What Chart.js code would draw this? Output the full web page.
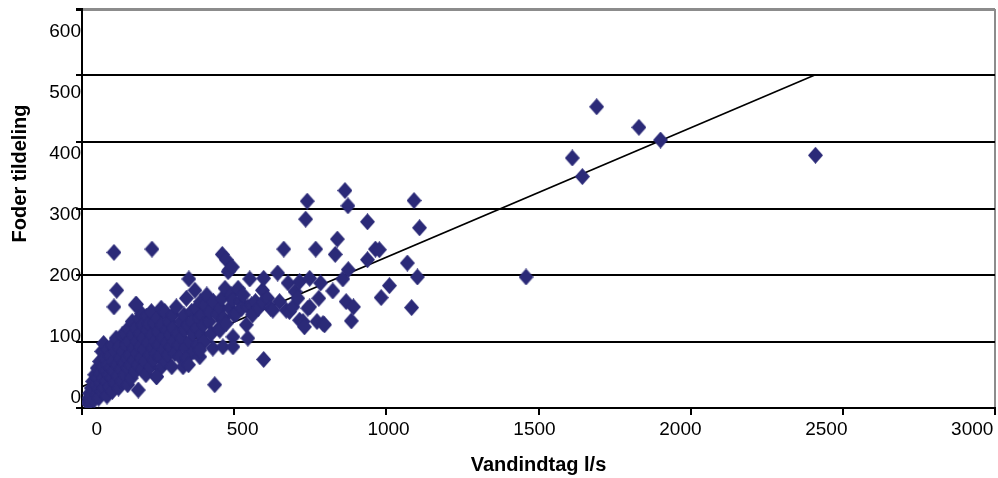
<!DOCTYPE html>
<html>
<head>
<meta charset="utf-8">
<script src="https://cdn.jsdelivr.net/npm/chart.js@4/dist/chart.umd.min.js"></script>
<style>
  body { margin: 0; background: #fff; }
  #wrap { width: 998px; height: 478px; position: relative; }
</style>
</head>
<body>
<div id="wrap"><canvas id="myChartFoder"></canvas></div>
<script>
// Vandindtag (l/s) for hver maaling
const waterFlow = [
  18, 22, 25, 28, 30, 32, 35, 38, 40, 42,
  45, 48, 50, 52, 55, 55, 58, 60, 62, 65,
  65, 68, 70, 72, 71, 75, 78, 80, 82, 85,
  85, 88, 90, 92, 95, 98, 100, 100, 102, 105,
  108, 110, 112, 115, 118, 120, 122, 125, 128, 130,
  132, 135, 138, 140, 142, 145, 148, 150, 150, 152,
  155, 158, 160, 162, 165, 168, 170, 172, 175, 175,
  178, 180, 182, 185, 185, 188, 190, 192, 195, 196,
  198, 200, 202, 205, 208, 210, 212, 215, 218, 219,
  222, 225, 228, 230, 232, 235, 238, 240, 242, 245,
  248, 250, 252, 255, 258, 260, 262, 265, 268, 272,
  275, 278, 280, 283, 286, 290, 292, 295, 298, 300,
  302, 305, 310, 315, 318, 321, 325, 328, 332, 335,
  338, 340, 343, 345, 348, 350, 351, 355, 360, 362,
  365, 368, 371, 375, 378, 380, 385, 387, 390, 392,
  395, 400, 402, 405, 410, 418, 420, 425, 430, 432,
  436, 445, 450, 453, 455, 460, 461, 463, 465, 470,
  474, 474, 480, 485, 485, 490, 494, 496, 496, 496,
  500, 507, 513, 520, 525, 530, 540, 545, 545, 551,
  557, 560, 570, 580, 593, 595, 597, 597, 610, 620,
  627, 643, 649, 663, 671, 677, 682, 693, 700, 709,
  715, 715, 726, 731, 735, 740, 742, 748, 748, 768,
  772, 778, 784, 792, 797, 824, 832, 839, 857, 864,
  868, 874, 875, 885, 892, 938, 938, 964, 977, 983,
  1010, 1069, 1083, 1091, 1102, 1109, 1459, 1611, 1644, 1691,
  1830, 1901, 2410, 105, 230, 114, 105, 179, 245, 387
];

// Foder tildeling for samme maalinger
const feedAlloc = [
  8, 15, 22, 10, 30, 18, 40, 25, 12, 50,
  35, 20, 60, 45, 28, 15, 70, 52, 38, 25,
  85, 62, 45, 30, 97, 75, 55, 40, 18, 88,
  65, 50, 32, 78, 60, 45, 25, 95, 70, 55,
  38, 85, 105, 65, 48, 30, 92, 75, 58, 40,
  110, 85, 68, 50, 112, 95, 75, 60, 35, 120,
  100, 80, 65, 45, 130, 110, 90, 72, 155, 55,
  120, 100, 82, 27, 65, 135, 112, 92, 75, 142,
  58, 125, 105, 88, 70, 50, 138, 118, 98, 127,
  80, 62, 145, 110, 90, 72, 128, 100, 82, 47,
  135, 115, 95, 78, 60, 150, 125, 105, 88, 145,
  70, 118, 98, 80, 130, 110, 92, 62, 140, 120,
  100, 82, 152, 112, 95, 77, 130, 105, 62, 140,
  118, 90, 165, 75, 125, 65, 194, 100, 145, 130,
  112, 85, 177, 150, 120, 95, 135, 77, 160, 110,
  140, 125, 100, 155, 170, 130, 145, 112, 90, 160,
  35, 140, 120, 117, 150, 165, 231, 92, 135, 180,
  223, 127, 205, 208, 150, 170, 212, 162, 107, 92,
  140, 142, 180, 160, 150, 170, 125, 152, 105, 194,
  155, 140, 160, 150, 177, 160, 195, 73, 165, 150,
  147, 203, 160, 239, 147, 188, 145, 152, 175, 165,
  190, 132, 130, 122, 284, 311, 150, 195, 152, 239,
  130, 165, 188, 127, 125, 176, 231, 254, 194, 327,
  160, 304, 208, 131, 152, 280, 223, 239, 238, 166,
  184, 218, 151, 312, 197, 271, 197, 376, 348, 453,
  422, 403, 380, 234, 239, 177, 152, 156, 47, 87
];

// tendenslinje (start og slut)
const trendX = [0, 2410];
const trendY = [32, 501];

const xTicks = [0, 500, 1000, 1500, 2000, 2500, 3000];
const yTicks = [0, 100, 200, 300, 400, 500, 600];

// diamant markoer, lidt hoejere end bred
const marker = document.createElement('canvas');
marker.width = 15;
marker.height = 17;
const mctx = marker.getContext('2d');
mctx.fillStyle = '#2B2A78';
mctx.beginPath();
mctx.moveTo(7.5, 0);
mctx.lineTo(15, 8.5);
mctx.lineTo(7.5, 17);
mctx.lineTo(0, 8.5);
mctx.closePath();
mctx.fill();

const points = waterFlow.map((v, i) => ({ x: v, y: feedAlloc[i] }));
const trend = trendX.map((v, i) => ({ x: v, y: trendY[i] }));

const tickFont = { family: "'Liberation Sans', Arial, sans-serif", size: 19 };
const titleFont = { family: "'Liberation Sans', Arial, sans-serif", size: 20, weight: 'bold' };

var ctxFoder = document.getElementById('myChartFoder').getContext('2d');
var myChartFoder = new Chart(ctxFoder, {
    type: 'scatter',
    data: {
        datasets: [
            {
                label: 'Foder',
                data: points,
                pointStyle: marker,
                pointRadius: 7,
                backgroundColor: '#2B2A78',
                borderColor: '#2B2A78',
                order: 1
            },
            {
                type: 'line',
                label: 'Tendens',
                data: trend,
                borderColor: '#000',
                borderWidth: 1.6,
                pointRadius: 0,
                fill: false,
                order: 2
            }
        ]
    },
    options: {
        responsive: true,
        maintainAspectRatio: false,
        animation: false,
        layout: { autoPadding: false, padding: { top: 9, right: 3, left: 0, bottom: 0 } },
        plugins: {
            legend: { display: false },
            tooltip: { enabled: false }
        },
        scales: {
            x: {
                type: 'linear',
                position: 'bottom',
                min: 0,
                max: 3000,
                ticks: { display: false, stepSize: 500 },
                grid: {
                    drawOnChartArea: true,
                    color: c => c.tick && c.tick.value === 3000 ? '#8c8c8c' : 'rgba(0,0,0,0)',
                    lineWidth: 2,
                    tickColor: '#000',
                    tickLength: 7
                },
                border: { color: '#000', width: 2 },
                afterFit: s => { s.height = 10; }
            },
            xLab: {
                type: 'linear',
                position: 'bottom',
                weight: 1,
                min: -50.4,
                max: 3078,
                afterBuildTicks: s => { s.ticks = xTicks.map(v => ({ value: v })); },
                ticks: { font: tickFont, color: '#000', padding: 0, maxRotation: 0, callback: v => String(v) },
                grid: { display: false, drawTicks: false },
                border: { display: false },
                title: { display: true, text: 'Vandindtag l/s', font: titleFont, color: '#000', padding: { top: 0, bottom: 1 } },
                afterFit: s => { s.height = 60; s.paddingLeft = 0; s.paddingRight = 0; }
            },
            y: {
                type: 'linear',
                position: 'left',
                min: 0,
                max: 600,
                ticks: { display: false, stepSize: 100 },
                grid: {
                    color: c => c.tick && c.tick.value === 600 ? '#8c8c8c' : '#000',
                    lineWidth: c => c.tick && c.tick.value === 600 ? 3 : 2,
                    tickColor: '#000',
                    tickLength: 6
                },
                border: { color: '#000', width: 2 },
                afterFit: s => { s.width = 0; }
            },
            yLab: {
                type: 'linear',
                position: 'left',
                weight: 1,
                min: -17.6,
                max: 636.8,
                afterBuildTicks: s => { s.ticks = yTicks.map(v => ({ value: v })); },
                ticks: { font: tickFont, color: '#000', padding: 1, callback: v => String(v) },
                grid: { display: false, drawTicks: false },
                border: { display: false },
                title: { display: true, text: '\u2002\u2002\u2002\u2002\u2002\u2002\u2002Foder tildeling', font: titleFont, color: '#000', padding: { top: 8, bottom: 0 } },
                afterFit: s => { s.width = 82; s.paddingTop = 0; s.paddingBottom = 0; }
            }
        }
    }
});
</script>
</body>
</html>
